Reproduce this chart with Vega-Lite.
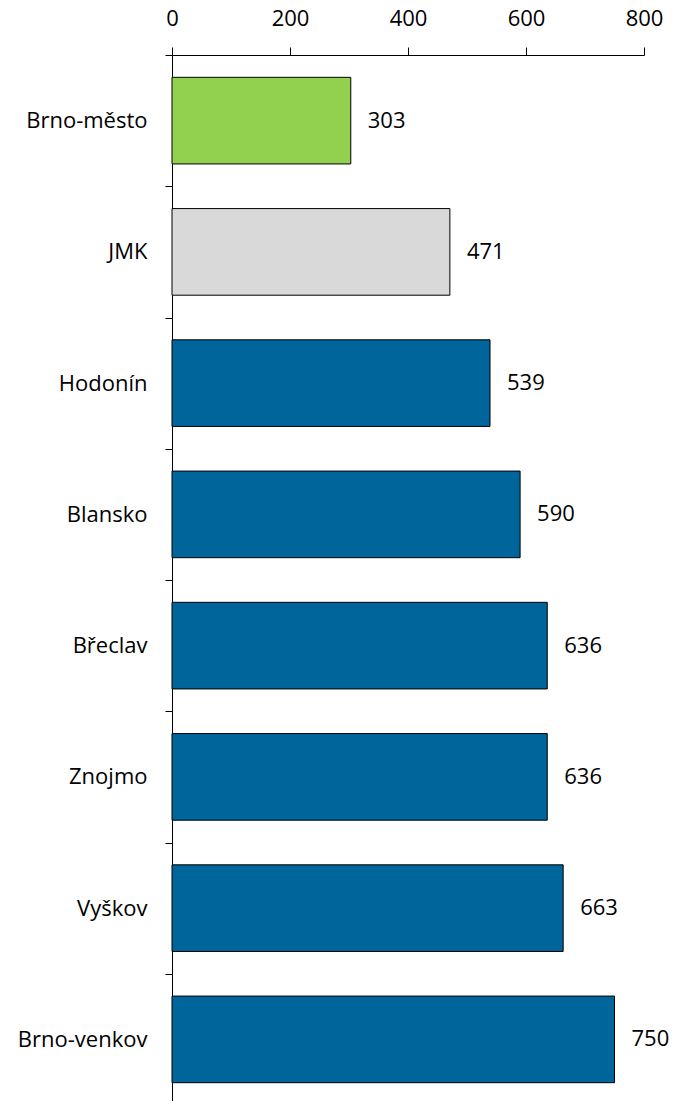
{
  "$schema": "https://vega.github.io/schema/vega-lite/v6.json",
  "autosize": "none",
  "width": 472,
  "height": 1046,
  "padding": {"left": 172, "top": 55, "right": 33, "bottom": 0},
  "background": "white",
  "config": {
    "view": {"stroke": null},
    "font": "Open Sans",
    "axis": {"domainColor": "black", "tickColor": "black", "labelColor": "black", "labelFont": "Open Sans", "labelFontSize": 22, "grid": false, "title": null, "labelFlush": false}
  },
  "data": {
    "values": [
      {"okres": "Brno-město", "value": 303, "typ": "město"},
      {"okres": "JMK", "value": 471, "typ": "kraj"},
      {"okres": "Hodonín", "value": 539, "typ": "okres"},
      {"okres": "Blansko", "value": 590, "typ": "okres"},
      {"okres": "Břeclav", "value": 636, "typ": "okres"},
      {"okres": "Znojmo", "value": 636, "typ": "okres"},
      {"okres": "Vyškov", "value": 663, "typ": "okres"},
      {"okres": "Brno-venkov", "value": 750, "typ": "okres"}
    ]
  },
  "encoding": {
    "y": {
      "field": "okres", "type": "nominal", "sort": null,
      "scale": {"range": [0, 1050], "paddingInner": 0, "paddingOuter": 0},
      "axis": {"tickBand": "extent", "tickSize": 7, "labelPadding": 18}
    },
    "x": {
      "field": "value", "type": "quantitative",
      "scale": {"domain": [0, 800], "nice": false},
      "axis": {"orient": "top", "values": [0, 200, 400, 600, 800], "tickSize": 8, "labelPadding": 17, "labelFlush": false}
    }
  },
  "layer": [
    {
      "mark": {"type": "bar", "height": {"band": 0.66}, "stroke": "black", "strokeWidth": 1},
      "encoding": {
        "color": {"field": "typ", "type": "nominal", "legend": null,
          "scale": {"domain": ["město", "kraj", "okres"], "range": ["#92D050", "#D9D9D9", "#00659A"]}}
      }
    },
    {
      "mark": {"type": "text", "align": "left", "baseline": "middle", "dx": 17, "fontSize": 22, "color": "black"},
      "encoding": {"text": {"field": "value", "type": "quantitative"}}
    }
  ]
}
